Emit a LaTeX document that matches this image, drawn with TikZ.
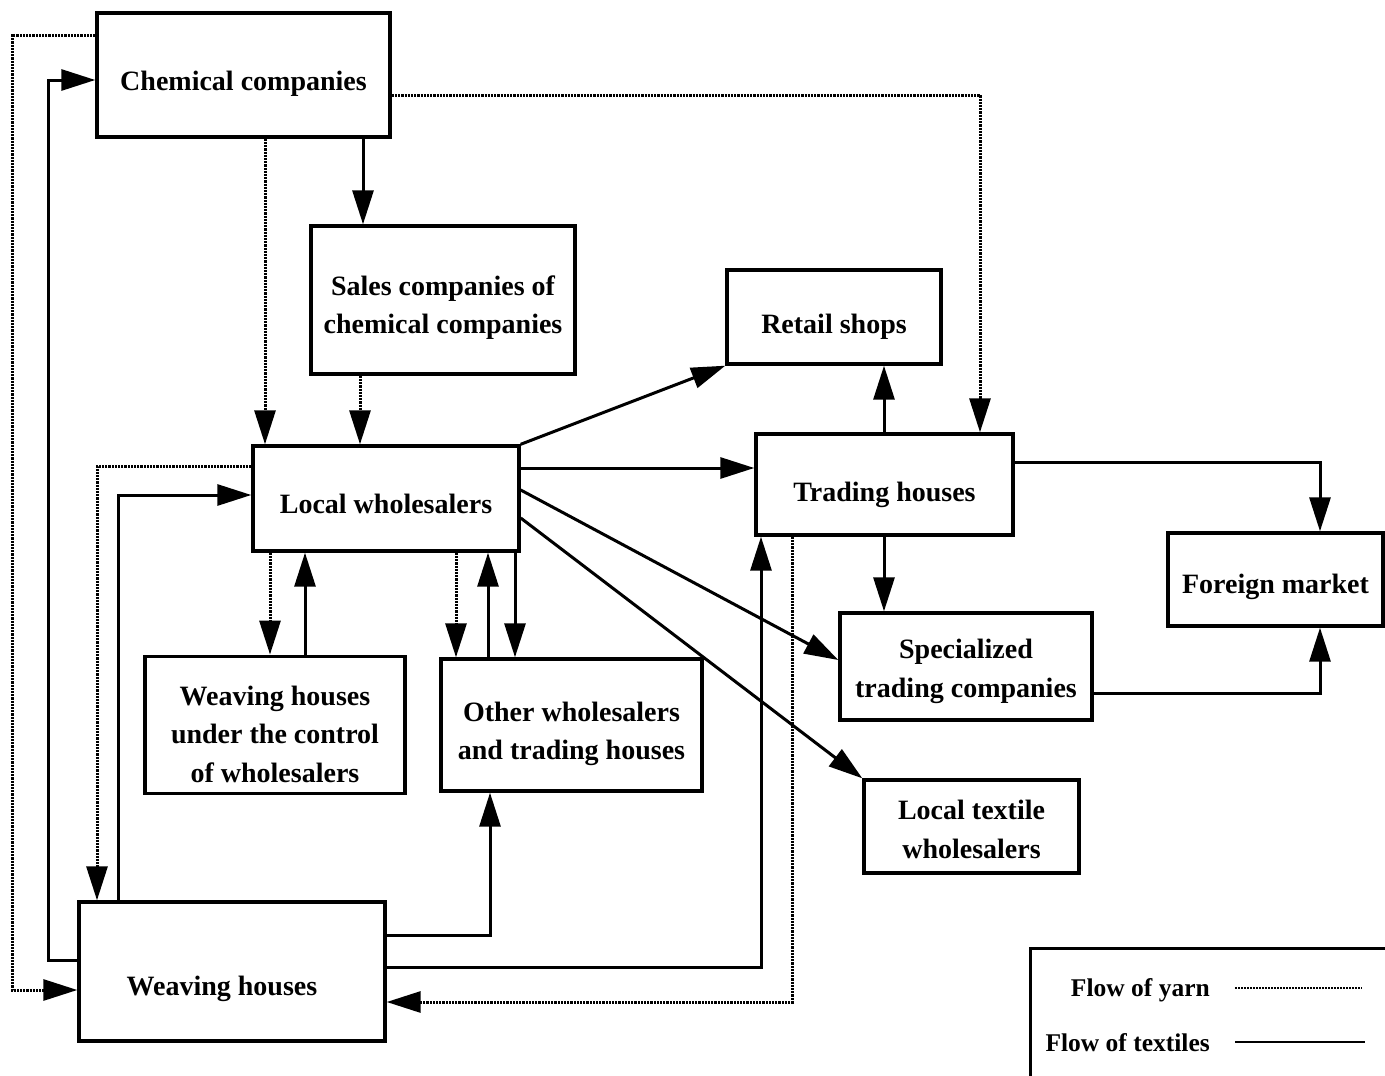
\documentclass[tikz,border=0pt]{standalone}
\usepackage{fontspec}
\setmainfont{Liberation Serif}
\usetikzlibrary{arrows.meta}
% lower the text block by #1 and move it left by #2 (pads its declared extent)
\newcommand\lowtxt[3]{\raisebox{0pt}[\dimexpr\height+#1*2\relax][\depth]{\begin{tabular}{@{}c@{\hspace{#2}}}#3\end{tabular}}}
\begin{document}
\begin{tikzpicture}[x=1pt,y=-1pt,
  box/.style={draw,line width=3.4pt,inner sep=0pt,align=center,
    font=\fontsize{28}{38.5}\selectfont\bfseries},
  textile/.style={line width=3pt,-{Triangle[length=34pt,width=21pt]}},
  yarn/.style={line width=3pt,dash pattern=on 2.2pt off 1pt,-{Triangle[length=34pt,width=21pt]}},
  legtext/.style={anchor=east,inner sep=0pt,font=\fontsize{25.5}{30}\selectfont\bfseries}]
\useasboundingbox (0,0) rectangle (1385,1076);
% boxes
\node[box,minimum width=293pt,minimum height=124pt] (chem) at (243.5,75) {\lowtxt{8pt}{0pt}{Chemical companies}};
\node[box,minimum width=264pt,minimum height=148pt] (sales) at (443,300) {\lowtxt{7pt}{0pt}{Sales companies of\\chemical companies}};
\node[box,minimum width=214pt,minimum height=94pt] (retail) at (834,317) {\lowtxt{9pt}{0pt}{Retail shops}};
\node[box,minimum width=266pt,minimum height=105pt] (local) at (386,498.5) {\lowtxt{7pt}{0pt}{Local wholesalers}};
\node[box,minimum width=257pt,minimum height=101pt] (trading) at (884.5,484.5) {\lowtxt{9pt}{0pt}{Trading houses}};
\node[box,minimum width=215pt,minimum height=93pt] (foreign) at (1275.5,579.5) {\lowtxt{6pt}{0pt}{Foreign market}};
\node[box,minimum width=252pt,minimum height=107pt] (spec) at (966,666.5) {\lowtxt{4pt}{0pt}{Specialized\\trading companies}};
\node[box,minimum width=260pt,minimum height=132pt] (wuc) at (275,725) {\lowtxt{11pt}{0pt}{Weaving houses\\under the control\\of wholesalers}};
\node[box,minimum width=261pt,minimum height=132pt] (other) at (571.5,725) {\lowtxt{8pt}{0pt}{Other wholesalers\\and trading houses}};
\node[box,minimum width=215pt,minimum height=93pt] (ltw) at (971.5,826.5) {\lowtxt{5pt}{0pt}{Local textile\\wholesalers}};
\node[box,minimum width=306pt,minimum height=139pt] (weav) at (232,971.5) {\lowtxt{16pt}{20pt}{Weaving houses}};
% helper coordinates
\foreach \v in {12,48,97,118,265,270,305,360,363,456,488,490,515,761,792,884,980,1320}
  {\coordinate (x\v) at (\v,0);}
\foreach \v in {35,80,95,462,466,468,490,495,518,660,693,935,960,967,990,1002}
  {\coordinate (y\v) at (0,\v);}
% connectors
\draw[yarn] (chem.south -| x265) -- (local.north -| x265);
\draw[textile] (chem.south -| x363) -- (sales.north -| x363);
\draw[yarn] (sales.south -| x360) -- (local.north -| x360);
\draw[yarn] (chem.east |- y95) -| (trading.north -| x980);
\draw[yarn] (chem.west |- y35) -| (x12 |- y990) -- (weav.west |- y990);
\draw[textile] (weav.west |- y960) -| (x48 |- y80) -- (chem.west |- y80);
\draw[yarn] (local.west |- y466) -| (weav.north -| x97);
\draw[textile] (weav.north -| x118) |- (local.west |- y495);
\draw[yarn] (local.south -| x270) -- (wuc.north -| x270);
\draw[textile] (wuc.north -| x305) -- (local.south -| x305);
\draw[yarn] (local.south -| x456) -- (other.north -| x456);
\draw[textile] (other.north -| x488) -- (local.south -| x488);
\draw[textile] (local.south -| x515) -- (other.north -| x515);
\draw[textile] (local.north east) -- (retail.south west);
\draw[textile] (local.east |- y468) -- (trading.west |- y468);
\draw[textile] (local.east |- y490) -- (spec.west |- y660);
\draw[textile] (local.east |- y518) -- (ltw.north west);
\draw[textile] (trading.north -| x884) -- (retail.south -| x884);
\draw[textile] (trading.south -| x884) -- (spec.north -| x884);
\draw[textile] (trading.east |- y462) -| (foreign.north -| x1320);
\draw[textile] (spec.east |- y693) -| (foreign.south -| x1320);
\draw[textile] (weav.east |- y935) -| (other.south -| x490);
\draw[textile] (weav.east |- y967) -| (trading.south -| x761);
\draw[yarn] (trading.south -| x792) |- (weav.east |- y1002);
% legend
\coordinate (lgA) at (1030,1076);
\coordinate (lgB) at (1030,948);
\coordinate (lgC) at (1385,948);
\draw[line width=3pt] (lgA) -- (lgB) -- (lgC);
\node[legtext] (ly) at (1210,990) {Flow of yarn};
\node[legtext] (lt) at (1210,1043) {Flow of textiles};
\coordinate (ly1) at (1235,988);
\coordinate (ly2) at (1362,988);
\coordinate (lt1) at (1235,1042);
\coordinate (lt2) at (1365,1042);
\draw[line width=2.4pt,dash pattern=on 2pt off 1pt] (ly1) -- (ly2);
\draw[line width=2.4pt] (lt1) -- (lt2);
\end{tikzpicture}
\end{document}
